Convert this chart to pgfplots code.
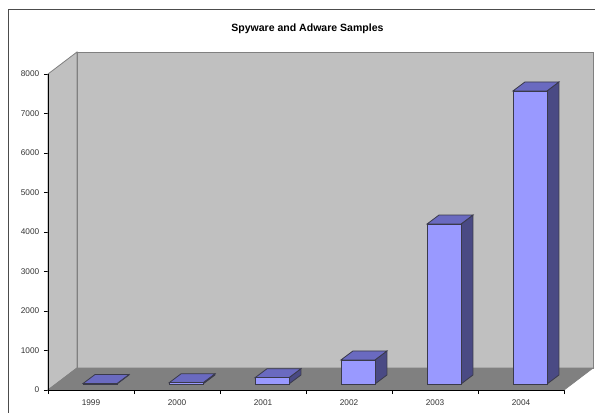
\documentclass[border=0pt]{standalone}
\usepackage{fontspec}
\setmainfont{Liberation Sans}
\usepackage{pgfplots}
\pgfplotsset{compat=1.18}
\definecolor{wallc}{HTML}{C0C0C0}
\definecolor{floorc}{HTML}{808080}
\definecolor{frontc}{HTML}{9999FF}
\definecolor{topc}{HTML}{6A6AC0}
\definecolor{sidec}{HTML}{4A4A84}
\definecolor{edgec}{HTML}{3A3A4A}
% one 3-D column: category index, value
\newcommand{\columnbar}[2]{%
  \pgfmathsetmacro{\xl}{#1-0.093}%
  \pgfmathsetmacro{\xr}{#1+0.302}%
  \pgfmathsetmacro{\xlb}{\xl+0.1395}%
  \pgfmathsetmacro{\xrb}{\xr+0.1395}%
  \pgfmathsetmacro{\yb}{152}%
  \pgfmathsetmacro{\yt}{152+#2}%
  \pgfmathsetmacro{\ybb}{\yb+228}%
  \pgfmathsetmacro{\ytb}{\yt+228}%
  \addplot[draw=edgec,line width=0.6pt,fill=sidec] coordinates {(\xr,\yb) (\xrb,\ybb) (\xrb,\ytb) (\xr,\yt)} -- cycle;
  \addplot[draw=edgec,line width=0.6pt,fill=topc] coordinates {(\xl,\yt) (\xr,\yt) (\xrb,\ytb) (\xlb,\ytb)} -- cycle;
  \addplot[draw=edgec,line width=0.6pt,fill=frontc] coordinates {(\xl,\yb) (\xr,\yb) (\xr,\yt) (\xl,\yt)} -- cycle;
}
\begin{document}
\begin{tikzpicture}
\useasboundingbox (0pt,0pt) rectangle (446.25pt,-309pt);
\draw[color=black!70,line width=0.75pt] (6.4pt,-320pt) -- (6.4pt,-7.1pt) -- (450pt,-7.1pt);
\begin{axis}[
  at={(36pt,-292.5pt)},anchor=south west,
  width=408.75pt,height=253.5pt,scale only axis,
  xmin=-0.5,xmax=5.837,ymin=0,ymax=8557,
  clip=false,
  axis lines*=left,
  axis line style={draw=none},
  xtick={0,1,2,3,4,5},
  xticklabels={1999,2000,2001,2002,2003,2004},
  minor xtick={-0.5,0.5,1.5,2.5,3.5,4.5,5.5},
  ytick={0,1000,2000,3000,4000,5000,6000,7000,8000},
  tick align=outside,
  major tick length=3pt,
  minor tick length=3pt,
  x tick style={draw=none},
  minor x tick style={draw=black,line width=0.6pt},
  y tick style={draw=black,line width=0.6pt},
  tick label style={font=\fontsize{6.2}{7}\selectfont,text=black!80},
  x tick label style={yshift=-1pt},
  /pgf/number format/assume math mode=true,
  /pgf/number format/1000 sep={},
  title={\fontsize{7.9}{9}\selectfont\bfseries Spyware and Adware Samples},
  title style={at={(0.476,1)},anchor=south,yshift=4pt},
]
% back wall, side wall, floor
\addplot[draw=floorc,line width=0.6pt,fill=wallc] coordinates {(-0.163,557) (5.837,557) (5.837,8557) (-0.163,8557)} -- cycle;
\addplot[draw=floorc,line width=0.6pt,fill=wallc] coordinates {(-0.5,0) (-0.163,557) (-0.163,8557) (-0.5,8000)} -- cycle;
\addplot[draw=floorc,line width=0.6pt,fill=floorc] coordinates {(-0.5,0) (5.5,0) (5.837,557) (-0.163,557)} -- cycle;
% axis lines on the front plane
\addplot[black,line width=0.7pt] coordinates {(-0.5,0) (5.5,0)};
\addplot[black,line width=0.7pt] coordinates {(-0.5,0) (-0.5,8000)};
% columns
\columnbar{0}{12}
\columnbar{1}{30}
\columnbar{2}{160}
\columnbar{3}{610}
\columnbar{4}{4050}
\columnbar{5}{7420}
\end{axis}
\end{tikzpicture}
\end{document}
